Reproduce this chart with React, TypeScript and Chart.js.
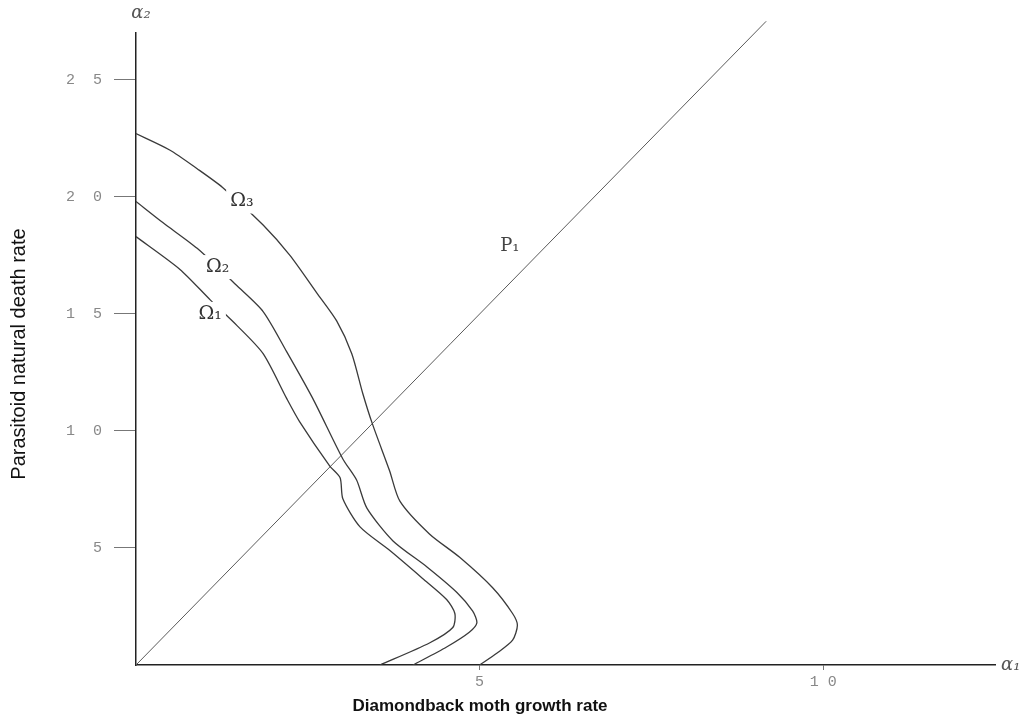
import React, { useEffect, useRef } from "react";
import { Chart, registerables } from "chart.js";

Chart.register(...registerables);

// Ω3 (outer curve)
const omega3X = [0, 0.49, 0.89, 1.26, 1.85, 2.24, 2.63, 2.92, 3.14, 3.3, 3.44, 3.69, 3.84, 4.27, 4.71, 5.19, 5.48, 5.55, 5.48, 5.25, 5.0];
const omega3Y = [22.7, 22.0, 21.2, 20.4, 18.8, 17.5, 15.9, 14.7, 13.3, 11.6, 10.3, 8.3, 7.0, 5.6, 4.6, 3.3, 2.2, 1.7, 1.06, 0.5, 0];
// Ω2 (middle curve)
const omega2X = [0, 0.39, 0.89, 1.47, 1.85, 2.19, 2.57, 3.01, 3.21, 3.36, 3.74, 4.23, 4.67, 4.9, 4.96, 4.85, 4.52, 4.03];
const omega2Y = [19.8, 18.9, 17.8, 16.2, 15.1, 13.4, 11.4, 8.8, 7.9, 6.7, 5.3, 4.2, 3.1, 2.3, 1.8, 1.4, 0.77, 0];
// Ω1 (inner curve)
const omega1X = [0, 0.64, 1.08, 1.47, 1.85, 2.19, 2.38, 2.82, 2.97, 3.01, 3.26, 3.69, 4.17, 4.52, 4.64, 4.61, 4.27, 3.55];
const omega1Y = [18.3, 16.9, 15.6, 14.5, 13.3, 11.4, 10.4, 8.5, 8.0, 7.1, 5.9, 4.9, 3.7, 2.8, 2.2, 1.6, 0.94, 0];
// P1 line
const p1X = [0, 9.17];
const p1Y = [0, 27.5];

const xTicks = [5, 10];
const yTicks = [5, 10, 15, 20, 25];

const curveLabels = [
  { text: "Ω₃", x: 1.54, y: 19.8 },
  { text: "Ω₂", x: 1.19, y: 17.0 },
  { text: "Ω₁", x: 1.08, y: 15.0 },
];
const p1Label = { text: "P₁", x: 5.44, y: 17.9 };

const xTitle = "Diamondback moth growth rate";
const yTitle = "Parasitoid natural death rate";

const zip = (xs: number[], ys: number[]) => xs.map((x, i) => ({ x, y: ys[i] }));
const spacedX = (v: number) => String(v).split("").join(" ");
const spacedY = (v: number) => String(v).split("").join("  ");

const annotate = {
  id: "annotate",
  afterDatasetsDraw(chart: any) {
    const { ctx, scales } = chart;
    const xs = scales.x;
    const ys = scales.y;
    ctx.save();
    ctx.font = "19px 'DejaVu Serif', serif";
    ctx.textAlign = "center";
    ctx.textBaseline = "middle";
    for (const l of curveLabels) {
      const px = xs.getPixelForValue(l.x);
      const py = ys.getPixelForValue(l.y);
      const w = ctx.measureText(l.text).width;
      ctx.fillStyle = "#ffffff";
      ctx.fillRect(px - w / 2 - 4, py - 12, w + 8, 24);
      ctx.fillStyle = "#333333";
      ctx.fillText(l.text, px, py);
    }
    {
      const px = xs.getPixelForValue(p1Label.x);
      const py = ys.getPixelForValue(p1Label.y);
      ctx.fillStyle = "#444444";
      ctx.font = "18px 'DejaVu Serif', serif";
      ctx.fillText(p1Label.text, px, py);
    }
    // axis end labels
    ctx.fillStyle = "#555555";
    ctx.font = "italic 18px 'DejaVu Serif', serif";
    ctx.textAlign = "left";
    ctx.fillText("α₁", xs.right + 6, ys.bottom);
    ctx.textAlign = "center";
    ctx.fillText("α₂", xs.left + 5, ys.top - 20);
    // axis titles
    ctx.fillStyle = "#111111";
    ctx.font = "bold 17px 'Liberation Sans', Arial, sans-serif";
    ctx.fillText(xTitle, 480, 706);
    ctx.save();
    ctx.translate(19, 354);
    ctx.rotate(-Math.PI / 2);
    ctx.font = "20px 'Liberation Sans', Arial, sans-serif";
    ctx.fillText(yTitle, 0, 0);
    ctx.restore();
    ctx.restore();
  },
};

export default function App() {
  const ref = useRef<HTMLCanvasElement | null>(null);
  useEffect(() => {
    if (!ref.current) return;
    const curveStyle = {
      showLine: true,
      pointRadius: 0,
      borderColor: "#3a3a3a",
      borderWidth: 1.3,
      tension: 0.25,
      fill: false,
    };
    const chart = new Chart(ref.current, {
      type: "scatter",
      data: {
        datasets: [
          { label: "Ω3", data: zip(omega3X, omega3Y), ...curveStyle },
          { label: "Ω2", data: zip(omega2X, omega2Y), ...curveStyle },
          { label: "Ω1", data: zip(omega1X, omega1Y), ...curveStyle },
          {
            label: "P1",
            data: zip(p1X, p1Y),
            showLine: true,
            pointRadius: 0,
            borderColor: "#5a5a5a",
            borderWidth: 1,
            clip: false as any,
          },
        ],
      },
      options: {
        animation: false,
        responsive: false,
        layout: { padding: { left: 0, right: 32, top: 33, bottom: 0 } },
        plugins: { legend: { display: false }, tooltip: { enabled: false } },
        scales: {
          x: {
            type: "linear",
            min: 0,
            max: 12.5,
            afterFit: (s: any) => {
              s.height = 60;
            },
            afterBuildTicks: (s: any) => {
              s.ticks = xTicks.map((v) => ({ value: v }));
            },
            ticks: {
              callback: (v: any) => spacedX(Number(v)),
              color: "#888888",
              font: { family: "'Liberation Mono', monospace", size: 15 },
              padding: 3,
              maxRotation: 0,
            },
            grid: { drawOnChartArea: false, drawTicks: true, tickLength: 5, color: "#777777" },
            border: { color: "#222222", width: 1.5 },
          },
          y: {
            type: "linear",
            min: 0,
            max: 27,
            afterFit: (s: any) => {
              s.width = 136;
            },
            afterBuildTicks: (s: any) => {
              s.ticks = yTicks.map((v) => ({ value: v }));
            },
            ticks: {
              callback: (v: any) => spacedY(Number(v)),
              color: "#888888",
              font: { family: "'Liberation Mono', monospace", size: 15 },
              padding: 12,
            },
            grid: { drawOnChartArea: false, drawTicks: true, tickLength: 22, color: "#777777" },
            border: { color: "#222222", width: 1.5 },
          },
        },
      },
      plugins: [annotate],
    });
    return () => chart.destroy();
  }, []);
  return (
    <div style={{ position: "fixed", left: 0, top: 0, width: 1027, height: 725, background: "#fff" }}>
      <canvas ref={ref} width={1027} height={725} style={{ width: 1027, height: 725 }} />
    </div>
  );
}
